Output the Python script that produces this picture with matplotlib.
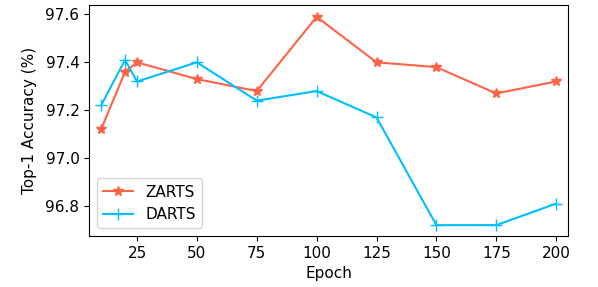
import matplotlib.pyplot as plt

epochs = [10, 20, 25, 50, 75, 100, 125, 150, 175, 200]
zarts = [97.12, 97.36, 97.40, 97.33, 97.28, 97.59, 97.40, 97.38, 97.27, 97.32]
darts = [97.22, 97.41, 97.32, 97.40, 97.24, 97.28, 97.17, 96.72, 96.72, 96.81]

plt.rcParams['font.size'] = 11

fig, ax = plt.subplots(figsize=(5.98, 2.87), dpi=100)
fig.subplots_adjust(left=0.149, right=0.950, top=0.983, bottom=0.178)

ax.plot(epochs, zarts, color='tomato', marker='*', markersize=7.5, label='ZARTS')
ax.plot(epochs, darts, color='deepskyblue', marker='+', markersize=8, label='DARTS')

ax.set_xlim(5, 205)
ax.set_ylim(96.675, 97.64)
ax.set_xticks([25, 50, 75, 100, 125, 150, 175, 200])
ax.set_yticks([96.8, 97.0, 97.2, 97.4, 97.6])
ax.set_xlabel('Epoch')
ax.set_ylabel('Top-1 Accuracy (%)', labelpad=6)
ax.legend(loc='lower left')

fig.savefig('out.png')
